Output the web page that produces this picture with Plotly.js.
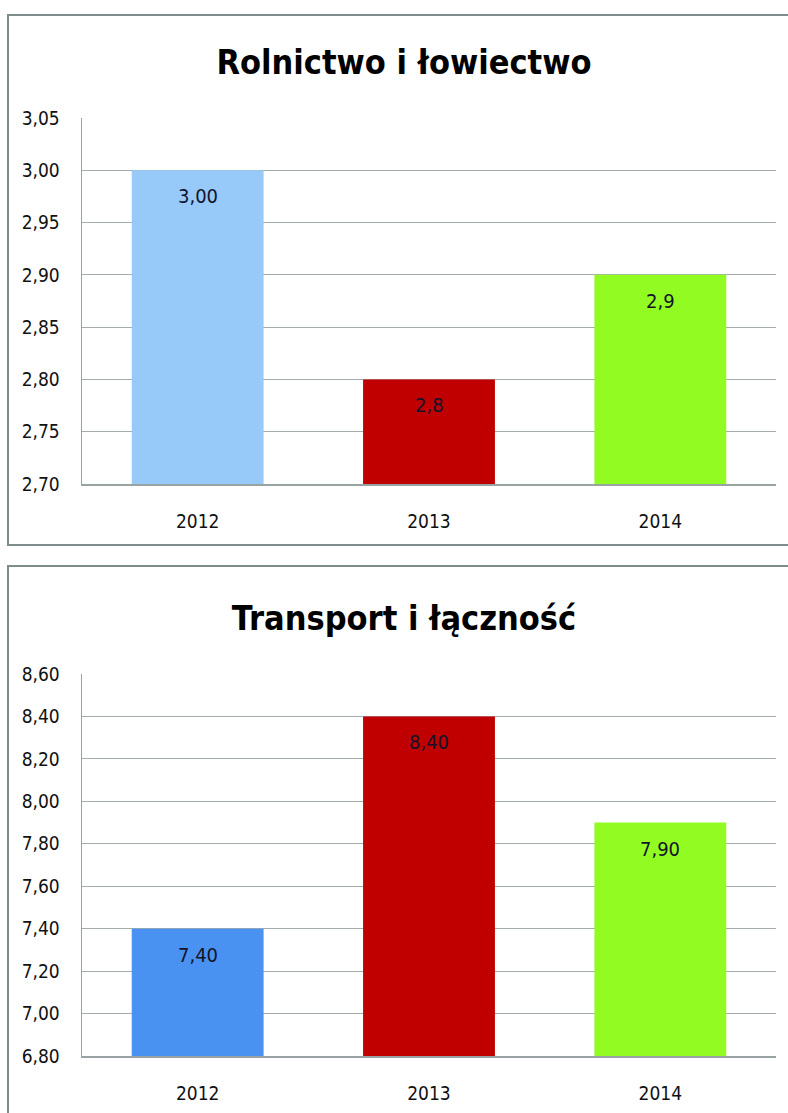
<!DOCTYPE html>
<html>
<head>
<meta charset="utf-8">
<script src="https://cdn.plot.ly/plotly-3.0.1.min.js"></script>
<style>
    body { margin: 0; background: #fff; overflow: hidden; }
    .frame { position: absolute; left: 7px; border: 2px solid #7f8c8c; }
    #chart1 { top: 14px; width: 790px; height: 528px; }
    #chart2 { top: 565px; width: 790px; height: 556px; }
</style>
</head>
<body>
<div id="chart1" class="frame"></div>
<div id="chart2" class="frame"></div>
<script>
// ~~~~~~~~~~~~~~~~~~~~~~~~~~~~~~ DATA ~~~~~~~~~~~~~~~~~~~~~~~~~~~~~~
const YEARS = ['2012', '2013', '2014']

const ROL_TITLE = 'Rolnictwo i łowiectwo'
const ROL_VALUES = [3.00, 2.80, 2.90]
const ROL_LABELS = ['3,00', '2,8', '2,9']
const ROL_COLORS = ['#97caf9', '#c00000', '#92fc22']

const TRA_TITLE = 'Transport i łączność'
const TRA_VALUES = [7.40, 8.40, 7.90]
const TRA_LABELS = ['7,40', '8,40', '7,90']
const TRA_COLORS = ['#4a92f2', '#c00000', '#92fc22']

const FONT = '"DejaVu Sans Condensed", "Liberation Sans Narrow", sans-serif'

// ~~~~~~~~~~~~~~~~~~~~~~~~~~~~~ BUILD ~~~~~~~~~~~~~~~~~~~~~~~~~~~~~~
function drawChart(div, title, values, labels, colors, range, dtick, margin, titleY) {
    let trace = {
        type: 'bar',
        x: YEARS,
        y: values,
        width: 0.57,
        marker: { color: colors },
        hoverinfo: 'skip'
    }

    // data labels sit a little below the top of each bar
    // (x given as category index, a '2012' string gets read as a number)
    let annotations = YEARS.map((yr, i) => ({
        x: i, y: values[i], xref: 'x', yref: 'y',
        text: labels[i], showarrow: false,
        yanchor: 'middle', yshift: -26,
        font: { family: FONT, size: 20, color: '#141428' }
    }))

    let layout = {
        width: 790,
        height: margin.h,
        margin: { t: margin.t, r: 23, b: margin.b, l: 73 },
        paper_bgcolor: '#fff',
        plot_bgcolor: '#fff',
        showlegend: false,
        font: { family: FONT, color: '#111' },
        title: {
            text: '<b>' + title + '</b>',
            font: { family: FONT, size: 34, color: '#000' },
            x: 0.5, xref: 'container', xanchor: 'center',
            y: titleY, yref: 'container', yanchor: 'middle'
        },
        xaxis: {
            type: 'category',
            range: [-0.5, YEARS.length - 0.5],
            showline: true, linecolor: '#9aa3a3', linewidth: 1.5,
            ticks: '', ticklabelstandoff: 20,
            tickfont: { family: FONT, size: 19, color: '#111' },
            showgrid: false, zeroline: false
        },
        yaxis: {
            range: range, dtick: dtick, tick0: range[0],
            tickformat: '.2f',
            showline: true, linecolor: '#9aa3a3', linewidth: 1.5,
            showgrid: true, gridcolor: '#a4acac', gridwidth: 1.2,
            zeroline: false, ticks: '', ticklabelstandoff: 17,
            tickfont: { family: FONT, size: 19, color: '#111' }
        },
        separators: ',.',
        annotations: annotations
    }

    Plotly.newPlot(div, [trace], layout, { displayModeBar: false, staticPlot: true })
}

drawChart('chart1', ROL_TITLE, ROL_VALUES, ROL_LABELS, ROL_COLORS,
    [2.70, 3.05], 0.05, { t: 102, b: 60, h: 528 }, 1 - 46 / 528)

drawChart('chart2', TRA_TITLE, TRA_VALUES, TRA_LABELS, TRA_COLORS,
    [6.80, 8.60], 0.20, { t: 107, b: 67, h: 556 }, 1 - 51 / 556)
</script>
</body>
</html>
